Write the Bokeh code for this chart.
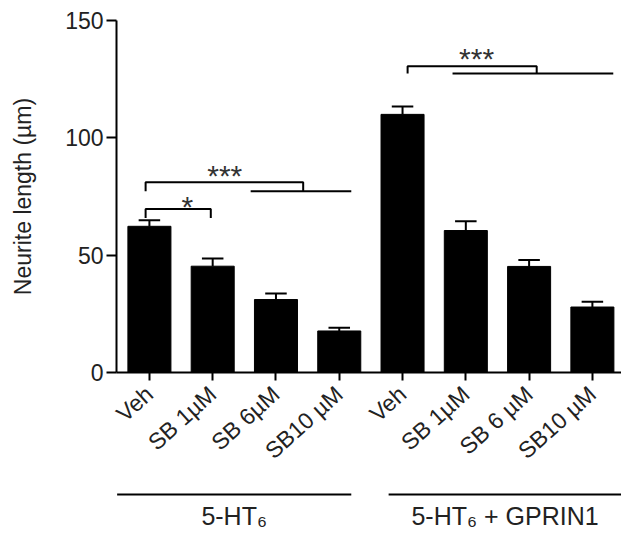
import math
from bokeh.plotting import figure
from bokeh.layouts import column
from bokeh.models import Range1d, FixedTicker
from bokeh.core.properties import value
from bokeh.embed import file_html
from bokeh.resources import INLINE

# ---- data ----
labels = ["Veh", "SB 1µM", "SB 6µM", "SB10 µM", "Veh", "SB 1µM", "SB 6 µM", "SB10 µM"]
means = [62.3, 45.3, 31.1, 17.7, 110.0, 60.5, 45.2, 27.9]
sems = [2.6, 3.3, 2.6, 1.4, 3.3, 3.9, 2.7, 2.3]
y_ticks = [0, 50, 100, 150]
groups = ["5-HT₆", "5-HT₆ + GPRIN1"]
group_line_x0 = [-0.51, 3.78]
group_line_x1 = [3.19, 7.46]

# significance brackets
sig_text = ["*", "***", "***"]
sig_left = [-0.06, -0.06, 4.08]
sig_right = [0.97, 2.43, 6.12]
sig_top = [69.7, 81.1, 130.5]
sig_drop = [3.9, 3.9, 3.1]
sig_text_x = [0.6, 1.19, 5.17]
sig_text_y = [73.6, 87.0, 137.0]
sig_bar_x0 = [None, 1.6, 4.79]
sig_bar_x1 = [None, 3.19, 7.33]

FONT = "Liberation Sans"
TXT = "#222222"
xs = list(range(len(labels)))

W = 621
H1 = 478
H2 = 50
LEFT = 116

x_range = Range1d(-0.52, 7.46)
p = figure(width=W, height=H1, x_range=x_range, y_range=Range1d(0, 150),
           output_backend="svg", toolbar_location=None,
           min_border_left=LEFT, min_border_right=0, min_border_top=20,
           min_border_bottom=106)
p.outline_line_color = None
p.xgrid.visible = False
p.ygrid.visible = False

p.vbar(x=xs, top=means, bottom=0, width=0.68, fill_color="black", line_color="black", line_width=1)

tops = [m + s for m, s in zip(means, sems)]
p.segment(x0=xs, y0=means, x1=xs, y1=tops, line_color="black", line_width=2)
p.segment(x0=[x - 0.17 for x in xs], y0=tops, x1=[x + 0.17 for x in xs], y1=tops,
          line_color="black", line_width=2)

# brackets
bx, by = [], []
for l, r, t, d in zip(sig_left, sig_right, sig_top, sig_drop):
    bx.append([l, l, r, r])
    by.append([t - d, t, t, t - d])
p.multi_line(xs=bx, ys=by, line_color="black", line_width=2)
lx0 = [a for a in sig_bar_x0 if a is not None]
lx1 = [a for a in sig_bar_x1 if a is not None]
ly = [t - d for a, t, d in zip(sig_bar_x0, sig_top, sig_drop) if a is not None]
p.segment(x0=lx0, y0=ly, x1=lx1, y1=ly, line_color="black", line_width=2)
p.text(x=sig_text_x, y=sig_text_y, text=sig_text, text_align="center",
       text_baseline="middle", y_offset=7, text_font=value(FONT),
       text_font_size="30px", text_color="#333333")

# axes
p.yaxis.ticker = FixedTicker(ticks=y_ticks)
p.yaxis.axis_label = "Neurite length (µm)"
p.yaxis.axis_label_text_font = FONT
p.yaxis.axis_label_text_font_size = "23px"
p.yaxis.axis_label_text_font_style = "normal"
p.yaxis.axis_label_text_color = TXT
p.yaxis.axis_label_standoff = 26
p.yaxis.major_label_text_font = FONT
p.yaxis.major_label_text_font_size = "23px"
p.yaxis.major_label_text_color = TXT
p.yaxis.major_label_standoff = 3
p.yaxis.major_tick_out = 10
p.yaxis.major_tick_in = 0
p.yaxis.minor_tick_line_color = None
p.yaxis.axis_line_width = 2
p.yaxis.major_tick_line_width = 2
p.yaxis.axis_line_color = "black"
p.yaxis.major_tick_line_color = "black"

p.xaxis.ticker = FixedTicker(ticks=xs)
p.xaxis.major_label_overrides = {i: lab for i, lab in zip(xs, labels)}
p.xaxis.major_label_orientation = math.radians(42)
p.xaxis.major_label_text_font = FONT
p.xaxis.major_label_text_font_size = "23px"
p.xaxis.major_label_text_color = TXT
p.xaxis.major_label_standoff = 10
p.xaxis.major_tick_out = 8
p.xaxis.major_tick_in = 0
p.xaxis.minor_tick_line_color = None
p.xaxis.axis_line_width = 2
p.xaxis.major_tick_line_width = 2
p.xaxis.axis_line_color = "black"
p.xaxis.major_tick_line_color = "black"

# group labels panel
p2 = figure(width=W, height=H2, x_range=x_range, y_range=Range1d(H2, 0),
            output_backend="svg", toolbar_location=None,
            x_axis_type=None, y_axis_type=None,
            min_border_left=LEFT, min_border_right=0, min_border_top=0, min_border_bottom=0)
p2.outline_line_color = None
p2.xgrid.visible = False
p2.ygrid.visible = False
p2.segment(x0=group_line_x0, y0=[16, 16], x1=group_line_x1, y1=[16, 16],
           line_color="black", line_width=2)
p2.text(x=[(a + b) / 2 for a, b in zip(group_line_x0, group_line_x1)], y=[37, 37],
        text=groups, text_align="center", text_baseline="middle",
        text_font=value(FONT), text_font_size="25px", text_color=TXT)

layout = column(p, p2, spacing=0)
open("out.html", "w").write(file_html(layout, INLINE))
